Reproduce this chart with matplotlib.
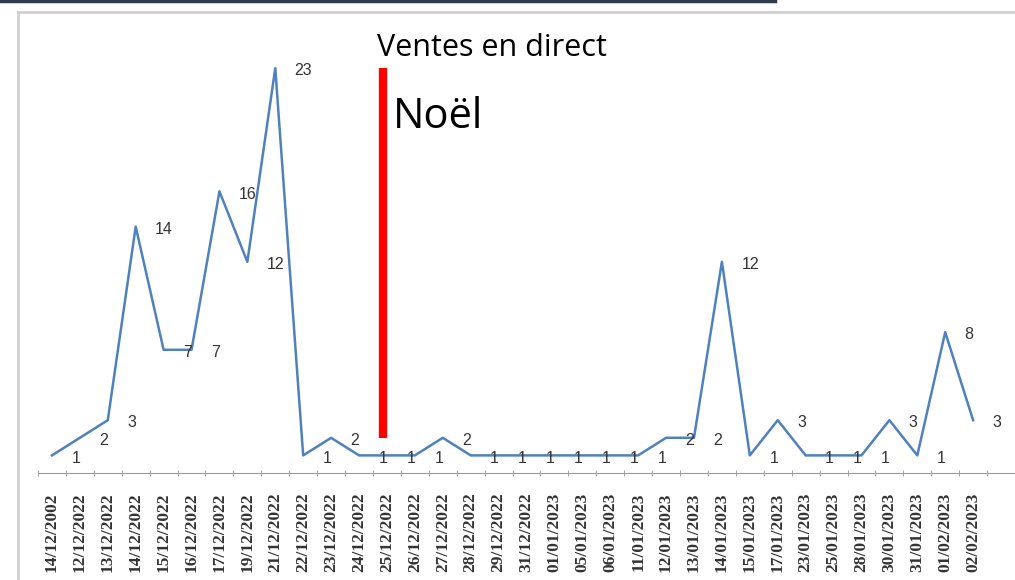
import matplotlib.pyplot as plt
import numpy as np

dates = ['14/12/2002', '12/12/2022', '13/12/2022', '14/12/2022', '15/12/2022',
         '16/12/2022', '17/12/2022', '19/12/2022', '21/12/2022', '22/12/2022',
         '23/12/2022', '24/12/2022', '25/12/2022', '26/12/2022', '27/12/2022',
         '28/12/2022', '29/12/2022', '31/12/2022', '01/01/2023', '05/01/2023',
         '06/01/2023', '11/01/2023', '12/01/2023', '13/01/2023', '14/01/2023',
         '15/01/2023', '17/01/2023', '23/01/2023', '25/01/2023', '28/01/2023',
         '30/01/2023', '31/01/2023', '01/02/2023', '02/02/2023']
ventes = [1, 2, 3, 14, 7, 7, 16, 12, 23, 1, 2, 1, 1, 1, 2, 1, 1, 1, 1, 1,
          1, 1, 2, 2, 12, 1, 3, 1, 1, 1, 3, 1, 8, 3]
noel_pos = 11.85  # red marker, between 24/12 and 25/12

fig = plt.figure(figsize=(10.15, 5.8), dpi=100)
W, H = 1015, 580

# plot area in pixels: left 38, axis line at y=473, top at y=33
ax = fig.add_axes([38 / W, (H - 473) / H, (W - 38) / W, (473 - 33) / H])
x = np.arange(len(ventes))
ax.plot(x, ventes, color='#4F81BD', lw=1.8)

for i, v in enumerate(ventes):
    ax.annotate(str(v), (i, v), xytext=(14, -2), textcoords='offset points',
                ha='left', va='center', fontsize=11.5, color='#333333',
                family='Liberation Sans')

ax.set_xlim(-0.5, 34.5)
ax.set_ylim(0, 25)
ax.set_xticks(x)
ax.set_xticklabels(dates, rotation=90, family='Liberation Serif',
                   fontsize=12.5, fontweight='bold', color='#333333')
ax.tick_params(axis='x', length=0, pad=14)
ax.set_xticks(np.arange(-0.5, 34, 1), minor=True)
ax.tick_params(axis='x', which='minor', length=5, color='#999999',
               direction='inout')
ax.set_yticks([])
for s in ['left', 'right', 'top']:
    ax.spines[s].set_visible(False)
ax.spines['bottom'].set_color('#999999')

# red marker line for Christmas
ax.plot([noel_pos, noel_pos], [2.0, 23.0], color='#FF0000', lw=6,
        solid_capstyle='butt')
ax.text(noel_pos - 0.2, 24.15, 'Ventes en direct', fontsize=22,
        family='Open Sans', ha='left', va='center')
ax.text(noel_pos + 0.35, 20.2, 'Noël', fontsize=30, family='Open Sans',
        ha='left', va='center')

# frame of the slide / chart
fig.add_artist(plt.Line2D([0, 775 / W], [1 - 1 / H, 1 - 1 / H],
                          color='#2E3B4E', lw=2.5))
fig.add_artist(plt.Line2D([18 / W, 1], [1 - 12 / H, 1 - 12 / H],
                          color='#D0D0D0', lw=2))
fig.add_artist(plt.Line2D([18 / W, 18 / W], [0, 1 - 12 / H],
                          color='#D0D0D0', lw=2))

fig.savefig('out.png', dpi=100)
